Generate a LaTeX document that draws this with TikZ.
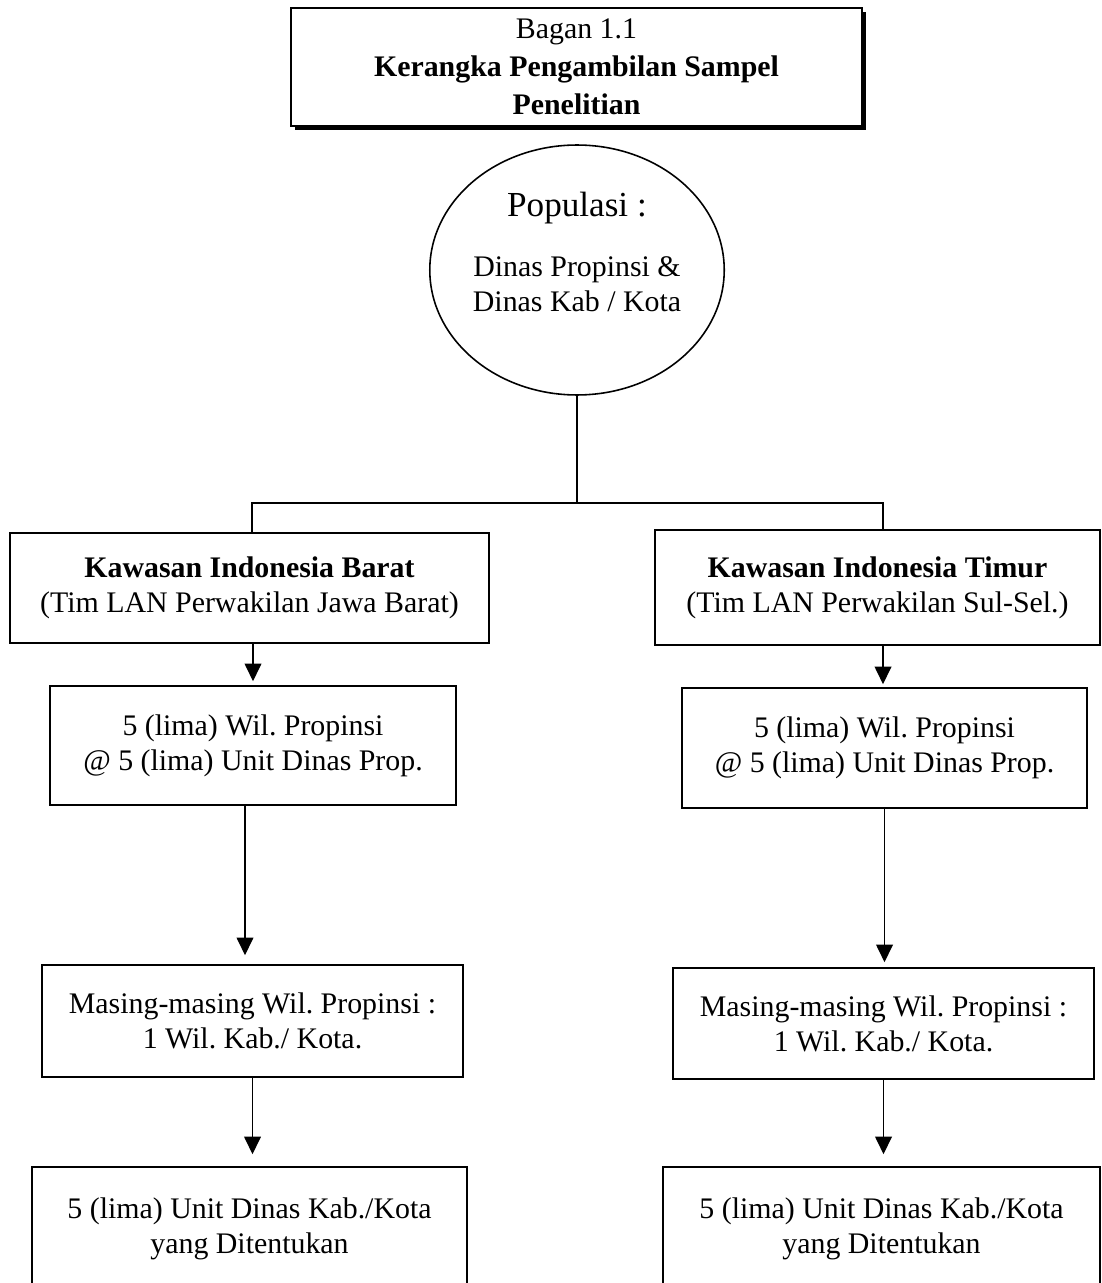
\documentclass[tikz,border=0pt]{standalone}
\usepackage{fontspec}
\setmainfont{Liberation Serif}
\usepackage{tikz}
\usetikzlibrary{arrows.meta,shapes.geometric,shadows}
\frenchspacing

\begin{document}
\begin{tikzpicture}[x=0.02cm,y=-0.02cm,
    kotak_node/.style={draw,line width=0.9pt,align=center,inner sep=0pt,font=\fontsize{17}{20}\selectfont},
    judul_node/.style={draw,line width=1.4pt,fill=white,align=center,inner sep=0pt,font=\fontsize{17}{21.5}\selectfont,
        drop shadow={shadow xshift=0.08cm,shadow yshift=-0.08cm,opacity=1,fill=black}},
    pop_node/.style={draw,ellipse,line width=0.9pt,inner sep=0pt,font=\fontsize{17}{20}\selectfont},
    garis/.style={line width=0.8pt},
    panah/.style={line width=0.8pt,-{Triangle[length=10pt,width=9.5pt]}}]

    \useasboundingbox (0,0) rectangle (1101,1283);

    \node[judul_node,minimum width=11.42cm,minimum height=2.36cm] (judul) at (576.5,67)
        {Bagan 1.1\\\textbf{Kerangka Pengambilan Sampel}\\\textbf{Penelitian}};

    \node[pop_node,minimum width=5.8cm,minimum height=5cm] (pop) at (577,270)
        {\raisebox{3pt}[0pt][0pt]{\begin{tabular}{@{}c@{}}
            {\fontsize{20}{24}\selectfont Populasi :}\\[14pt]
            Dinas Propinsi \&\\
            Dinas Kab / Kota
        \end{tabular}}};

    % kawasan barat
    \node[kotak_node,minimum width=9.58cm,minimum height=2.2cm] (barat1) at (249.5,588)
        {\textbf{Kawasan Indonesia Barat}\\(Tim LAN Perwakilan Jawa Barat)};
    \node[kotak_node,minimum width=8.12cm,minimum height=2.38cm] (barat2) at (253,745.5)
        {5 (lima) Wil. Propinsi\\@ 5 (lima) Unit Dinas Prop.};
    \node[kotak_node,minimum width=8.42cm,minimum height=2.24cm] (barat3) at (252.5,1021)
        {Masing-masing Wil. Propinsi :\\1 Wil. Kab./ Kota.};
    \node[kotak_node,minimum width=8.7cm,minimum height=2.46cm] (barat4) at (249.5,1228.5)
        {5 (lima) Unit Dinas Kab./Kota\\yang Ditentukan};

    % kawasan timur
    \node[kotak_node,minimum width=8.9cm,minimum height=2.3cm] (timur1) at (877.5,587.5)
        {\textbf{Kawasan Indonesia Timur}\\(Tim LAN Perwakilan Sul-Sel.)};
    \node[kotak_node,minimum width=8.1cm,minimum height=2.4cm] (timur2) at (884.5,748)
        {5 (lima) Wil. Propinsi\\@ 5 (lima) Unit Dinas Prop.};
    \node[kotak_node,minimum width=8.42cm,minimum height=2.22cm] (timur3) at (883.5,1023.5)
        {Masing-masing Wil. Propinsi :\\1 Wil. Kab./ Kota.};
    \node[kotak_node,minimum width=8.74cm,minimum height=2.46cm] (timur4) at (881.5,1228.5)
        {5 (lima) Unit Dinas Kab./Kota\\yang Ditentukan};

    \coordinate (cabang) at (577,503);
    \coordinate (cabang_kiri) at (252,503);
    \coordinate (cabang_kanan) at (883,503);
    \coordinate (turun_kiri) at (245,805);

    \draw[garis] (pop.south) -- (cabang);
    \draw[garis] (cabang_kiri |- barat1.north) -- (cabang_kiri) -- (cabang_kanan) -- (cabang_kanan |- timur1.north);

    \path[panah]
        (barat2.north |- barat1.south) edge[shorten >=0.08cm] (barat2.north)
        (turun_kiri) edge[shorten >=0.18cm] (turun_kiri |- barat3.north)
        (barat3.south) edge[shorten >=0.24cm] (barat3.south |- barat4.north)
        (cabang_kanan |- timur1.south) edge[shorten >=0.06cm] (cabang_kanan |- timur2.north)
        (timur2.south) edge[shorten >=0.1cm] (timur2.south |- timur3.north)
        (timur3.south) edge[shorten >=0.24cm] (timur3.south |- timur4.north);

\end{tikzpicture}
\end{document}
